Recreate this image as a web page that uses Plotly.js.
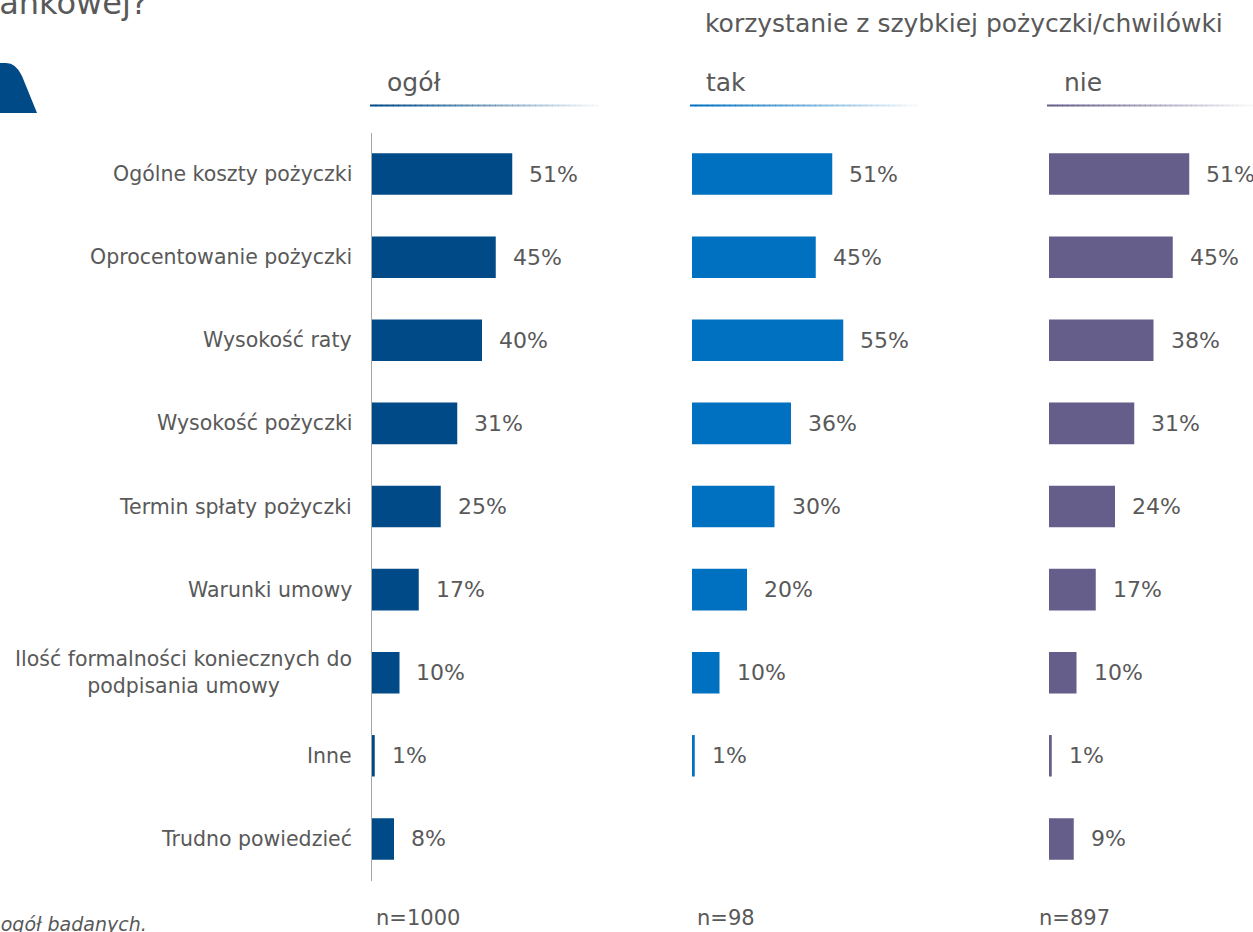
<!DOCTYPE html>
<html>
<head>
<meta charset="utf-8">
<script src="https://cdn.plot.ly/plotly-3.0.1.min.js"></script>
<style>html,body{margin:0;padding:0;background:#fff;}#chart{width:1253px;height:932px;}</style>
</head>
<body>
<div id="chart"></div>
<script>
const categories = [
  "Ogólne koszty pożyczki",
  "Oprocentowanie pożyczki",
  "Wysokość raty",
  "Wysokość pożyczki",
  "Termin spłaty pożyczki",
  "Warunki umowy",
  "Ilość formalności koniecznych do<br>podpisania umowy",
  "Inne",
  "Trudno powiedzieć"
];
const ogol = [51, 45, 40, 31, 25, 17, 10, 1, 8];
const tak  = [51, 45, 55, 36, 30, 20, 10, 1, null];
const nie  = [51, 45, 38, 31, 24, 17, 10, 1, 9];
const groupNames = ["ogół", "tak", "nie"];
const sampleSizes = ["n=1000", "n=98", "n=897"];
const groupHeader = "korzystanie z szybkiej pożyczki/chwilówki";
const titleTail = "pożyczki pozabankowej?";
const baseNote = "Baza: ogół badanych.";

const W = 1253, H = 932;
const px = v => v / W;
const py = v => 1 - v / H;
const FONT = "DejaVu Sans";
const GREY = "#595959";
const colors = ["#004A87", "#0070C0", "#655D8A"];
const series = [ogol, tak, nie];

const scale = 2.75; // px per percent
const panelStart = [372, 692, 1049];
const panelEnd = [592, 912, 1253];
const yDomain = [py(880.5), py(132.5)];

const traces = series.map((vals, i) => ({
  type: "bar",
  orientation: "h",
  x: vals,
  y: categories,
  xaxis: i === 0 ? "x" : "x" + (i + 1),
  yaxis: i === 0 ? "y" : "y" + (i + 1),
  width: 0.5,
  marker: {color: colors[i], line: {width: 0}},
  hoverinfo: "none",
  showlegend: false
}));

const layout = {
  width: W, height: H,
  margin: {l: 0, r: 0, t: 0, b: 0},
  paper_bgcolor: "#fff",
  plot_bgcolor: "rgba(0,0,0,0)",
  font: {family: FONT, color: GREY},
  showlegend: false,
  annotations: [],
  shapes: []
};

for (let i = 0; i < 3; i++) {
  const xa = i === 0 ? "xaxis" : "xaxis" + (i + 1);
  const ya = i === 0 ? "yaxis" : "yaxis" + (i + 1);
  const wpx = panelEnd[i] - panelStart[i];
  layout[xa] = {
    domain: [px(panelStart[i]), px(panelEnd[i])],
    range: [0, wpx / scale],
    visible: false,
    fixedrange: true
  };
  layout[ya] = {
    domain: yDomain,
    type: "category",
    categoryorder: "array",
    categoryarray: categories,
    autorange: "reversed",
    anchor: i === 0 ? "x" : "x" + (i + 1),
    showticklabels: false,
    ticks: "",
    showgrid: false,
    zeroline: false,
    showline: i === 0,
    linecolor: "#A6A6A6",
    linewidth: 1,
    fixedrange: true
  };
  const xr = i === 0 ? "x" : "x" + (i + 1);
  const yr = i === 0 ? "y" : "y" + (i + 1);
  series[i].forEach((v, k) => {
    if (v === null) return;
    layout.annotations.push({
      x: v, y: categories[k], xref: xr, yref: yr,
      text: v + "%", showarrow: false,
      xanchor: "left", yanchor: "middle", xshift: 15,
      font: {family: FONT, size: 22, color: GREY}
    });
  });
}

// category labels
categories.forEach(c => {
  layout.annotations.push({
    x: px(354), y: c, xref: "paper", yref: "y",
    text: c, showarrow: false, xanchor: "right", yanchor: "middle", align: "center",
    font: {family: FONT, size: 20.5, color: GREY}
  });
});

// group headers and underlines
const headerX = [385, 704, 1062];
const lineStart = [370, 690, 1047];
const lineEnd = [598, 917, 1253];
groupNames.forEach((g, i) => {
  layout.annotations.push({
    x: px(headerX[i]), y: py(82), xref: "paper", yref: "paper",
    text: g, showarrow: false, xanchor: "left", yanchor: "middle",
    font: {family: FONT, size: 25, color: GREY}
  });
  const N = 40;
  const step = (lineEnd[i] - lineStart[i]) / N;
  for (let s = 0; s < N; s++) {
    layout.shapes.push({
      type: "line", xref: "paper", yref: "paper",
      x0: px(lineStart[i] + s * step), x1: px(lineStart[i] + (s + 1) * step + 0.5),
      y0: py(105.5), y1: py(105.5),
      line: {color: colors[i], width: 2},
      opacity: Math.max(0.04, 1 - s / N)
    });
  }
  layout.annotations.push({
    x: px([374, 695, 1037][i]), y: py(918), xref: "paper", yref: "paper",
    text: sampleSizes[i], showarrow: false, xanchor: "left", yanchor: "middle",
    font: {family: FONT, size: 21, color: GREY}
  });
});

layout.annotations.push({
  x: px(703), y: py(24), xref: "paper", yref: "paper",
  text: groupHeader, showarrow: false, xanchor: "left", yanchor: "middle",
  font: {family: FONT, size: 25, color: GREY}
});

layout.annotations.push({
  x: px(150), y: py(3), xref: "paper", yref: "paper",
  text: titleTail, showarrow: false, xanchor: "right", yanchor: "middle",
  font: {family: FONT, size: 32, color: GREY}
});

layout.annotations.push({
  x: px(149), y: py(924), xref: "paper", yref: "paper",
  text: "<i>" + baseNote + "</i>", showarrow: false, xanchor: "right", yanchor: "middle",
  font: {family: FONT, size: 19, color: GREY}
});

// decorative tab shape top-left
const path = "M " + px(0) + "," + py(113) + " L " + px(37) + "," + py(113) +
  " L " + px(22) + "," + py(76) + " Q " + px(16) + "," + py(63) + " " + px(6) + "," + py(63) +
  " L " + px(0) + "," + py(63) + " Z";
layout.shapes.push({
  type: "path", xref: "paper", yref: "paper", path: path,
  fillcolor: "#004A87", line: {width: 0}
});

Plotly.newPlot("chart", traces, layout, {staticPlot: true, displayModeBar: false});
</script>
</body>
</html>
